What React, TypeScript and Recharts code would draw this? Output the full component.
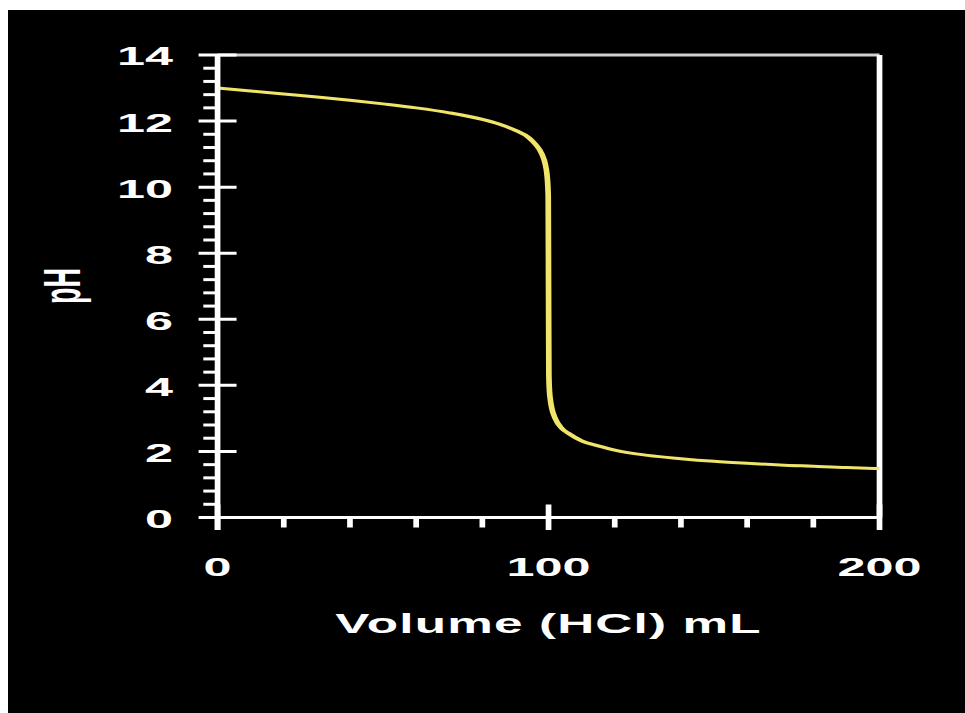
import React from 'react';
import { LineChart, Line, XAxis, YAxis, ReferenceLine } from 'recharts';

const volumeMl = [0, 10, 20, 30, 40, 50, 60, 70, 80, 85, 90, 94, 96, 98, 99, 99.5, 99.8, 99.9, 100, 100.1, 100.3, 100.5, 101, 102, 104, 106, 110, 115, 120, 130, 140, 150, 160, 170, 180, 190, 200];
const phValues = [13.0, 12.91, 12.82, 12.73, 12.63, 12.52, 12.4, 12.25, 12.05, 11.91, 11.72, 11.5, 11.3, 11.0, 10.7, 10.4, 10.0, 9.7, 7.0, 4.3, 3.8, 3.6, 3.3, 3.0, 2.7, 2.55, 2.32, 2.17, 2.04, 1.88, 1.78, 1.7, 1.64, 1.59, 1.55, 1.51, 1.48];

const xMajorTicks = [0, 100, 200];
const xMinorStep = 20;
const yMajorTicks = [0, 2, 4, 6, 8, 10, 12, 14];
const yMinorPerMajor = 4;

const xTitle = 'Volume (HCl) mL';
const yTitle = 'pH';

const data = volumeMl.map((v, i) => ({ v, ph: phValues[i] }));

const xTicks: number[] = [];
for (let v = xMajorTicks[0]; v <= xMajorTicks[xMajorTicks.length - 1]; v += xMinorStep) xTicks.push(v);

const yTicks: number[] = [];
for (let i = 0; i < yMajorTicks.length; i++) {
  yTicks.push(yMajorTicks[i]);
  if (i < yMajorTicks.length - 1) {
    const step = (yMajorTicks[i + 1] - yMajorTicks[i]) / (yMinorPerMajor + 1);
    for (let k = 1; k <= yMinorPerMajor; k++) yTicks.push(Math.round((yMajorTicks[i] + k * step) * 1000) / 1000);
  }
}

const STRETCH = 1.9;
const FONT = '"Liberation Sans", Arial, Helvetica, sans-serif';
const WHITE = '#ffffff';

const YTick = (props: any) => {
  const { x, y, payload } = props;
  const v = payload.value;
  const major = yMajorTicks.includes(v);
  return (
    <g>
      {major ? (
        <line x1={x - 10} x2={x + 10} y1={y} y2={y} stroke={WHITE} strokeWidth={3} />
      ) : (
        <line x1={x - 7.5} x2={x} y1={y} y2={y} stroke={WHITE} strokeWidth={3} />
      )}
      {v === 0 && <line x1={x} x2={x} y1={y} y2={y + 12.5} stroke={WHITE} strokeWidth={3} />}
      {major && (
        <text x={x - 23.5} y={y + 10.5} textAnchor="end" fill={WHITE} fontFamily={FONT} fontWeight={700} fontSize={26.5}>
          {v}
        </text>
      )}
    </g>
  );
};

const XTick = (props: any) => {
  const { x, y, payload } = props;
  const v = payload.value;
  const major = xMajorTicks.includes(v);
  return (
    <g>
      {major ? (
        <line x1={x} x2={x} y1={y - 13} y2={y + 12.5} stroke={WHITE} strokeWidth={3} />
      ) : (
        <line x1={x} x2={x} y1={y} y2={y + 10} stroke={WHITE} strokeWidth={3} />
      )}
      {major && (
        <text x={x} y={y + 59} textAnchor="middle" fill={WHITE} fontFamily={FONT} fontWeight={700} fontSize={26.5}>
          {v}
        </text>
      )}
    </g>
  );
};

const XLabel = (props: any) => {
  const vb = props.viewBox || { x: 110.3, y: 507.5, width: 348.4 };
  return (
    <text
      x={vb.x + vb.width / 2}
      y={vb.y + 116}
      textAnchor="middle"
      fill={WHITE}
      fontFamily={FONT}
      fontWeight={700}
      fontSize={27}
      letterSpacing={0.6}
    >
      {xTitle}
    </text>
  );
};

const YLabel = () => (
  <text
    transform="translate(37.9, 276) rotate(-90)"
    x={0}
    y={0}
    textAnchor="middle"
    fill={WHITE}
    fontFamily={FONT}
    fontWeight={700}
    fontSize={27}
  >
    {yTitle}
  </text>
);

export default function App() {
  return (
    <div
      style={{
        position: 'absolute',
        left: 8,
        top: 10,
        width: 957,
        height: 703,
        background: '#000',
        overflow: 'hidden',
      }}
    >
      <div style={{ width: 504, height: 703, transform: `scaleX(${STRETCH})`, transformOrigin: '0 0' }}>
        <LineChart width={504} height={703} data={data} margin={{ top: 45, right: 45.3, left: 0, bottom: 0 }}>
          <XAxis
            dataKey="v"
            type="number"
            domain={[0, 200]}
            ticks={xTicks}
            interval={0}
            tickSize={0}
            tickMargin={0}
            tickLine={false}
            tick={<XTick />}
            axisLine={{ stroke: WHITE, strokeWidth: 3 }}
            height={195.5}
            label={{ content: <XLabel /> }}
          />
          <YAxis
            type="number"
            domain={[0, 14]}
            ticks={yTicks}
            interval={0}
            tickSize={0}
            tickMargin={0}
            tickLine={false}
            tick={<YTick />}
            axisLine={{ stroke: WHITE, strokeWidth: 3 }}
            width={110.3}
            label={{ content: <YLabel /> }}
          />
          <ReferenceLine y={14} stroke="#d0d0d0" strokeWidth={3} />
          <ReferenceLine x={200} stroke={WHITE} strokeWidth={3} />
          <Line
            dataKey="ph"
            type="monotone"
            stroke="#f0e46a"
            strokeWidth={3}
            dot={false}
            isAnimationActive={false}
          />
        </LineChart>
      </div>
    </div>
  );
}
